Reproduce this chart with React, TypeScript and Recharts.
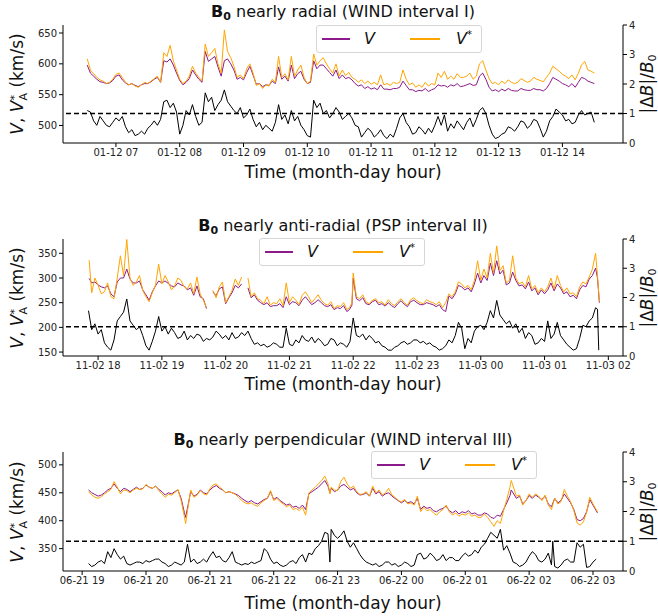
import React from 'react';
import { ComposedChart, Line, XAxis, YAxis, ReferenceLine } from 'recharts';

// ---- panel I: WIND, 01-12 (hours of day)
const t1 = [
  6.55, 6.6, 6.7, 6.8, 6.9, 7.0, 7.1, 7.2, 7.3, 7.4,
  7.5, 7.6, 7.7, 7.75, 7.8, 7.85, 7.9, 8.0, 8.1, 8.2,
  8.3, 8.35, 8.4, 8.5, 8.6, 8.65, 8.7, 8.8, 8.9, 9.0,
  9.1, 9.2, 9.3, 9.4, 9.5, 9.55, 9.6, 9.7, 9.75, 9.8,
  9.9, 10.0, 10.05, 10.1, 10.2, 10.3, 10.4, 10.5, 10.6, 10.7,
  10.8, 10.9, 11.0, 11.1, 11.15, 11.2, 11.3, 11.4, 11.45, 11.5,
  11.6, 11.7, 11.8, 11.9, 12.0, 12.05, 12.1, 12.15, 12.2, 12.3,
  12.4, 12.5, 12.6, 12.7, 12.75, 12.8, 12.9, 13.0, 13.1, 13.2,
  13.3, 13.4, 13.5, 13.6, 13.7, 13.75, 13.8, 13.9, 14.0, 14.1,
  14.2, 14.3, 14.4, 14.5,
];
const vStar1 = [
  608, 590, 578, 572, 570, 583, 578, 566, 564, 566,
  568, 576, 570, 618, 612, 630, 605, 575, 572, 596,
  578, 572, 632, 618, 600, 585, 655, 610, 578, 576,
  600, 565, 560, 564, 570, 612, 578, 574, 612, 580,
  598, 568, 572, 616, 605, 600, 585, 580, 581, 578,
  570, 568, 567, 566, 582, 566, 565, 568, 570, 590,
  566, 562, 562, 564, 566, 585, 578, 588, 575, 575,
  578, 580, 575, 600, 605, 590, 568, 566, 568, 570,
  570, 573, 572, 575, 571, 578, 585, 592, 583, 576,
  574, 598, 590, 585,
];
const v1 = [
  598, 585, 575, 570, 569, 580, 574, 566, 565, 566,
  568, 575, 570, 605, 603, 608, 598, 573, 570, 590,
  575, 570, 620, 608, 595, 580, 605, 600, 575, 574,
  596, 567, 563, 565, 568, 595, 575, 572, 598, 576,
  588, 568, 570, 605, 598, 592, 580, 576, 576, 574,
  564, 560, 559, 558, 566, 559, 558, 560, 562, 572,
  558, 555, 556, 555, 560, 566, 564, 565, 562, 564,
  563, 566, 565, 580, 585, 575, 556, 555, 556, 557,
  556, 558, 557, 558, 556, 560, 568, 575, 568, 563,
  562, 578, 572, 568,
];
// in-between samples (V*, V)
const tMid1 = [
  6.65, 6.75, 6.85, 6.95, 7.05, 7.15, 7.25, 7.35, 7.45, 7.55,
  7.65, 7.95, 8.05, 8.15, 8.25, 8.45, 8.55, 8.75, 8.85, 8.95,
  9.05, 9.15, 9.25, 9.35, 9.45, 9.65, 9.85, 9.95, 10.15, 10.25,
  10.35, 10.45, 10.55, 10.65, 10.75, 10.85, 10.95, 11.05, 11.25, 11.35,
  11.55, 11.65, 11.75, 11.85, 11.95, 12.25, 12.35, 12.45, 12.55, 12.65,
  12.85, 12.95, 13.05, 13.15, 13.25, 13.35, 13.45, 13.55, 13.65, 13.85,
  13.95, 14.05, 14.15, 14.25, 14.35, 14.45,
];
const vStarMid1 = [
  584, 574, 568, 575, 585, 570, 568, 562, 570, 572,
  580, 590, 568, 580, 585, 612, 625, 620, 596, 582,
  592, 585, 568, 566, 575, 584, 590, 578, 598, 610,
  592, 600, 590, 586, 575, 574, 572, 570, 568, 570,
  575, 569, 566, 570, 568, 580, 584, 578, 585, 580,
  576, 570, 572, 574, 568, 576, 570, 578, 573, 596,
  588, 580, 582, 585, 604, 588,
];
const vMid1 = [
  580, 571, 568, 573, 582, 569, 568, 563, 568, 571,
  578, 585, 566, 576, 582, 604, 612, 608, 590, 578,
  586, 582, 568, 566, 572, 580, 584, 575, 592, 598,
  586, 590, 582, 578, 568, 566, 563, 561, 559, 560,
  565, 558, 557, 560, 558, 566, 568, 564, 568, 566,
  562, 558, 559, 560, 556, 560, 557, 560, 558, 578,
  572, 566, 568, 570, 576, 570,
];
// |dB|/B0, [hour, value]
const dB1: [number, number][] = [
  [6.55, 1.1], [6.6, 1.05], [6.65, 0.75], [6.7, 0.6], [6.75, 0.9], [6.8, 0.75], [6.85, 0.6], [6.9, 0.55],
  [6.95, 0.7], [7.0, 0.85], [7.05, 0.75], [7.1, 0.9], [7.15, 0.55], [7.2, 0.35], [7.25, 0.45], [7.3, 0.25],
  [7.35, 0.3], [7.4, 0.4], [7.45, 0.3], [7.5, 0.5], [7.55, 0.6], [7.6, 0.75], [7.65, 0.6], [7.7, 0.8],
  [7.75, 1.4], [7.8, 1.45], [7.85, 1.2], [7.9, 1.35], [7.95, 1.05], [8.0, 0.3], [8.05, 0.6], [8.1, 1.1],
  [8.15, 0.95], [8.2, 1.3], [8.25, 0.9], [8.3, 0.6], [8.35, 0.7], [8.4, 1.7], [8.45, 1.4], [8.5, 1.55],
  [8.55, 1.1], [8.6, 1.3], [8.65, 1.45], [8.7, 1.8], [8.75, 1.4], [8.8, 1.25], [8.85, 1.1], [8.9, 1.0],
  [8.95, 1.2], [9.0, 0.85], [9.05, 0.95], [9.1, 1.15], [9.15, 0.8], [9.2, 0.55], [9.25, 0.7], [9.3, 0.45],
  [9.35, 0.6], [9.4, 0.5], [9.45, 0.4], [9.5, 0.7], [9.55, 1.3], [9.6, 0.8], [9.65, 0.95], [9.7, 0.65],
  [9.75, 1.1], [9.8, 0.75], [9.85, 0.9], [9.9, 0.6], [9.95, 0.45], [10.0, 0.25], [10.05, 0.2], [10.1, 1.45],
  [10.15, 1.2], [10.2, 1.35], [10.25, 1.0], [10.3, 1.1], [10.35, 0.85], [10.4, 1.0], [10.45, 1.2], [10.5, 1.05],
  [10.55, 0.8], [10.6, 0.9], [10.65, 1.0], [10.7, 0.85], [10.75, 0.6], [10.8, 0.55], [10.85, 0.2], [10.9, 0.35],
  [10.95, 0.5], [11.0, 0.4], [11.05, 0.2], [11.1, 0.3], [11.15, 0.45], [11.2, 0.25], [11.25, 0.15], [11.3, 0.3],
  [11.35, 0.2], [11.4, 0.5], [11.45, 0.85], [11.5, 1.0], [11.55, 0.7], [11.6, 0.55], [11.65, 0.3], [11.7, 0.35],
  [11.75, 0.55], [11.8, 0.45], [11.85, 0.3], [11.9, 0.5], [11.95, 0.35], [12.0, 0.6], [12.05, 0.9], [12.1, 0.6],
  [12.15, 0.95], [12.2, 0.4], [12.25, 0.65], [12.3, 0.5], [12.35, 0.75], [12.4, 0.6], [12.45, 0.45], [12.5, 0.7],
  [12.55, 0.85], [12.6, 0.55], [12.65, 0.8], [12.7, 1.1], [12.75, 1.2], [12.8, 1.0], [12.85, 0.6], [12.9, 0.3],
  [12.95, 0.15], [13.0, 0.2], [13.05, 0.3], [13.1, 0.35], [13.15, 0.55], [13.2, 0.5], [13.25, 0.4], [13.3, 0.55],
  [13.35, 0.75], [13.4, 0.7], [13.45, 0.5], [13.5, 0.6], [13.55, 0.8], [13.6, 0.75], [13.65, 0.5], [13.7, 0.2],
  [13.75, 0.4], [13.8, 0.75], [13.85, 0.9], [13.9, 1.15], [13.95, 1.05], [14.0, 0.95], [14.05, 0.75], [14.1, 0.8],
  [14.15, 0.65], [14.2, 0.7], [14.25, 0.95], [14.3, 1.1], [14.35, 0.95], [14.4, 1.0], [14.45, 1.05], [14.5, 0.7],
];

// ---- panel II: PSP, 11-02 18h .. 11-03 02h (hours past 11-02 00)
const t2 = [
  17.86, 17.9, 18.0, 18.1, 18.2, 18.3, 18.35, 18.4, 18.45, 18.5,
  18.6, 18.7, 18.8, 18.9, 18.95, 19.0, 19.1, 19.2, 19.3, 19.4,
  19.5, 19.55, 19.6, 19.7, 19.75, 19.8, 19.9, 20.0, 20.1, 20.2,
  20.25, 20.3, 20.35, 20.4, 20.5, 20.6, 20.7, 20.8, 20.9, 20.95,
  21.0, 21.1, 21.2, 21.3, 21.4, 21.5, 21.6, 21.7, 21.8, 21.9,
  21.98, 22.0, 22.05, 22.1, 22.2, 22.3, 22.4, 22.5, 22.6, 22.7,
  22.8, 22.9, 23.0, 23.1, 23.2, 23.3, 23.4, 23.5, 23.6, 23.65,
  23.7, 23.75, 23.8, 23.9, 23.95, 24.0, 24.1, 24.15, 24.2, 24.25,
  24.3, 24.4, 24.45, 24.5, 24.6, 24.7, 24.8, 24.9, 25.0, 25.05,
  25.1, 25.2, 25.3, 25.4, 25.5, 25.6, 25.7, 25.8, 25.83, 25.86,
];
const vStar2 = [
  336, 270, 285, 272, 262, 300, 345, 305, 378, 300,
  292, 275, 252, 285, 328, 288, 292, 284, 295, 278,
  268, 302, 268, 240, null, 275, 282, 250, 275, 285,
  302, null, 300, 262, 258, 248, 245, 248, 244, 290,
  250, 255, 265, 262, 258, 255, 245, 238, 242, 236,
  250, 310, 262, 258, 252, 255, 250, 245, 248, 252,
  250, 256, 254, 248, 252, 246, 240, 268, 272, 292,
  288, 280, 285, 295, 335, 296, 300, 350, 310, 365,
  315, 290, 295, 345, 288, 282, 278, 270, 272, 282,
  300, 305, 272, 268, 262, 292, 302, 350, 305, 252,
];
const v2 = [
  299, 290, 286, 280, 268, 292, 300, 300, 318, 298,
  290, 276, 255, 284, 294, 290, 289, 282, 286, 276,
  265, 284, 262, 238, null, 272, 278, 248, 270, 280,
  288, null, 280, 260, 255, 246, 242, 244, 240, 262,
  246, 250, 255, 254, 250, 250, 242, 236, 238, 232,
  245, 300, 258, 254, 248, 252, 246, 243, 244, 248,
  247, 252, 250, 246, 248, 242, 236, 264, 268, 285,
  282, 276, 280, 288, 310, 290, 295, 330, 305, 335,
  308, 286, 290, 312, 284, 278, 274, 266, 268, 276,
  290, 288, 268, 262, 258, 285, 298, 320, 300, 250,
];
const tMid2 = [
  17.95, 18.05, 18.15, 18.25, 18.55, 18.65, 18.75, 18.85, 19.05, 19.15,
  19.25, 19.35, 19.45, 19.65, 19.85, 19.95, 20.05, 20.15, 20.45, 20.55,
  20.65, 20.75, 20.85, 21.05, 21.15, 21.25, 21.35, 21.45, 21.55, 21.65,
  21.75, 21.85, 21.94, 22.15, 22.25, 22.35, 22.45, 22.55, 22.65, 22.75,
  22.85, 22.95, 23.05, 23.15, 23.25, 23.35, 23.45, 23.55, 23.85, 24.05,
  24.35, 24.55, 24.65, 24.75, 24.85, 24.95, 25.15, 25.25, 25.35, 25.45,
  25.55, 25.65, 25.75,
];
const vStarMid2 = [
  300, 268, 290, 258, 285, 305, 262, 270, 305, 276,
  300, 282, 290, 255, 260, 292, 262, 298, 270, 255,
  262, 250, 258, 262, 246, 272, 250, 266, 248, 252,
  244, 250, 240, 266, 248, 258, 252, 256, 244, 258,
  245, 260, 250, 256, 250, 252, 250, 262, 276, 318,
  325, 300, 292, 305, 285, 280, 278, 285, 280, 270,
  282, 288, 318,
];
const vMid2 = [
  292, 282, 284, 262, 290, 294, 266, 272, 294, 284,
  290, 284, 280, 258, 264, 282, 260, 285, 266, 250,
  250, 244, 248, 252, 244, 262, 246, 256, 244, 246,
  240, 244, 236, 260, 246, 255, 248, 250, 240, 254,
  242, 255, 246, 250, 246, 246, 232, 258, 272, 305,
  316, 295, 286, 292, 280, 276, 274, 280, 272, 265,
  276, 282, 305,
];
const dB2: [number, number][] = [
  [17.85, 1.55], [17.9, 0.9], [17.95, 1.1], [18.0, 0.75], [18.05, 0.9], [18.1, 0.45], [18.15, 0.3], [18.2, 0.2],
  [18.25, 0.55], [18.3, 1.2], [18.35, 1.35], [18.4, 1.5], [18.45, 1.95], [18.5, 1.2], [18.55, 1.05], [18.6, 0.9],
  [18.65, 1.0], [18.7, 0.7], [18.75, 0.35], [18.8, 0.2], [18.85, 0.5], [18.9, 0.85], [18.95, 1.35], [19.0, 0.85],
  [19.05, 1.0], [19.1, 0.75], [19.15, 0.95], [19.2, 0.8], [19.25, 0.6], [19.3, 0.65], [19.35, 0.85], [19.4, 0.55],
  [19.45, 0.7], [19.5, 0.6], [19.55, 0.75], [19.6, 0.7], [19.65, 0.5], [19.7, 0.6], [19.75, 0.55], [19.8, 0.65],
  [19.85, 0.85], [19.9, 0.75], [19.95, 0.6], [20.0, 0.7], [20.05, 0.55], [20.1, 0.8], [20.15, 0.6], [20.2, 0.65],
  [20.25, 0.8], [20.3, 0.7], [20.35, 0.85], [20.4, 0.6], [20.45, 0.4], [20.5, 0.45], [20.55, 0.35], [20.6, 0.4],
  [20.65, 0.3], [20.7, 0.35], [20.75, 0.45], [20.8, 0.4], [20.85, 0.3], [20.9, 0.3], [20.95, 0.95], [21.0, 0.4],
  [21.05, 0.35], [21.1, 0.55], [21.15, 0.45], [21.2, 0.7], [21.25, 0.55], [21.3, 0.5], [21.35, 0.65], [21.4, 0.45],
  [21.45, 0.6], [21.5, 0.5], [21.55, 0.35], [21.6, 0.4], [21.65, 0.6], [21.7, 0.55], [21.75, 0.35], [21.8, 0.45],
  [21.85, 0.4], [21.9, 0.3], [21.95, 0.5], [22.0, 1.3], [22.05, 0.7], [22.1, 0.65], [22.15, 0.75], [22.2, 0.55],
  [22.25, 0.7], [22.3, 0.6], [22.35, 0.45], [22.4, 0.5], [22.45, 0.35], [22.5, 0.3], [22.55, 0.2], [22.6, 0.2],
  [22.65, 0.3], [22.7, 0.35], [22.75, 0.45], [22.8, 0.5], [22.85, 0.4], [22.9, 0.45], [22.95, 0.55], [23.0, 0.55],
  [23.05, 0.45], [23.1, 0.5], [23.15, 0.4], [23.2, 0.45], [23.25, 0.35], [23.3, 0.3], [23.35, 0.2], [23.4, 0.25],
  [23.45, 0.35], [23.5, 0.55], [23.55, 0.45], [23.6, 0.7], [23.65, 1.15], [23.7, 0.95], [23.75, 0.25], [23.8, 0.6],
  [23.85, 0.45], [23.9, 0.85], [23.95, 1.0], [24.0, 1.05], [24.05, 0.9], [24.1, 1.15], [24.15, 1.55], [24.2, 1.3],
  [24.25, 1.9], [24.3, 1.4], [24.35, 1.25], [24.4, 1.1], [24.45, 1.2], [24.5, 0.95], [24.55, 1.1], [24.6, 0.8],
  [24.65, 0.95], [24.7, 0.6], [24.75, 0.8], [24.8, 0.7], [24.85, 0.4], [24.9, 0.45], [24.95, 0.6], [25.0, 0.5],
  [25.05, 1.2], [25.1, 0.6], [25.15, 0.75], [25.2, 1.15], [25.25, 0.7], [25.3, 0.55], [25.35, 0.4], [25.4, 0.3],
  [25.45, 0.2], [25.5, 0.25], [25.55, 0.6], [25.6, 1.05], [25.65, 1.0], [25.7, 1.2], [25.75, 1.3], [25.8, 1.65],
  [25.83, 1.6], [25.85, 0.2],
];

// ---- panel III: WIND, 06-21 19h .. 06-22 03h (hours past 06-21 00)
const t3 = [
  19.1, 19.2, 19.3, 19.4, 19.5, 19.6, 19.7, 19.8, 19.9, 20.0,
  20.1, 20.2, 20.3, 20.4, 20.5, 20.55, 20.6, 20.62, 20.7, 20.8,
  20.9, 21.0, 21.05, 21.1, 21.2, 21.3, 21.35, 21.4, 21.5, 21.6,
  21.7, 21.8, 21.85, 21.9, 21.95, 22.0, 22.1, 22.2, 22.3, 22.4,
  22.5, 22.55, 22.6, 22.7, 22.8, 22.85, 22.88, 22.9, 23.0, 23.05,
  23.1, 23.2, 23.3, 23.4, 23.5, 23.55, 23.6, 23.7, 23.8, 23.9,
  24.0, 24.1, 24.2, 24.25, 24.3, 24.4, 24.5, 24.6, 24.7, 24.8,
  24.9, 25.0, 25.1, 25.2, 25.3, 25.4, 25.45, 25.5, 25.55, 25.6,
  25.7, 25.72, 25.8, 25.9, 26.0, 26.1, 26.2, 26.3, 26.35, 26.4,
  26.5, 26.55, 26.6, 26.7, 26.75, 26.8, 26.85, 26.9, 26.95, 27.0, 27.07,
];
const v3 = [
  455, 447, 446, 455, 466, 452, 456, 456, 456, 464,
  458, 456, 446, 448, 455, 440, 415, 406, 452, 447,
  450, 455, 460, 463, 455, 452, 450, 448, 440, 433,
  432, 434, 438, 440, 452, 438, 436, 428, 424, 422,
  420, 448, 452, 460, 472, 462, 450, 458, 455, 462,
  465, 455, 450, 447, 444, 458, 448, 444, 450, 440,
  432, 432, 430, 440, 420, 422, 418, 420, 426, 414,
  412, 414, 412, 410, 414, 406, 404, 410, 408, 420,
  445, 455, 440, 430, 445, 446, 438, 430, 425, 440,
  436, 448, 440, 420, 402, 400, 404, 416, 438, 428, 414,
];
const vStar3 = [
  452, 442, 443, 452, 470, 448, 454, 455, 456, 465,
  458, 454, 442, 446, 456, 436, 408, 395, 455, 446,
  448, 457, 464, 466, 456, 452, 450, 447, 436, 430,
  428, 432, 436, 440, 454, 436, 434, 425, 420, 418,
  410, 450, 455, 466, 480, 466, 448, 460, 454, 470,
  478, 458, 452, 448, 444, 462, 450, 446, 458, 442,
  434, 430, 428, 444, 416, 418, 414, 416, 428, 410,
  408, 410, 408, 406, 412, 398, 390, 400, 395, 418,
  460, 472, 444, 428, 448, 448, 436, 428, 420, 440,
  434, 456, 444, 418, 396, 392, 398, 415, 442, 430, 416,
];
const tMid3 = [
  19.15, 19.25, 19.35, 19.45, 19.55, 19.65, 19.75, 19.85, 19.95, 20.05,
  20.15, 20.25, 20.35, 20.45, 20.75, 20.85, 20.95, 21.15, 21.25, 21.45,
  21.55, 21.65, 21.75, 22.05, 22.15, 22.25, 22.35, 22.45, 22.65, 22.75,
  22.95, 23.15, 23.25, 23.35, 23.45, 23.65, 23.75, 23.85, 23.95, 24.05,
  24.15, 24.35, 24.45, 24.55, 24.65, 24.75, 24.85, 24.95, 25.05, 25.15,
  25.25, 25.35, 25.65, 25.85, 25.95, 26.05, 26.15, 26.25, 26.45, 26.65,
];
const vMid3 = [
  450, 444, 450, 458, 458, 458, 452, 460, 458, 460,
  462, 452, 450, 452, 444, 455, 448, 458, 450, 445,
  436, 436, 430, 442, 432, 430, 426, 428, 456, 466,
  452, 460, 458, 446, 450, 452, 448, 444, 436, 436,
  434, 426, 424, 416, 422, 418, 418, 416, 418, 414,
  410, 412, 432, 444, 436, 440, 442, 444, 432, 432,
];
const vStarMid3 = [
  446, 440, 448, 456, 460, 455, 450, 458, 457, 460,
  462, 448, 447, 450, 442, 454, 446, 460, 450, 442,
  432, 432, 426, 440, 430, 428, 422, 424, 460, 472,
  455, 466, 462, 447, 452, 455, 450, 446, 436, 438,
  432, 424, 420, 410, 420, 416, 414, 412, 414, 410,
  406, 406, 438, 446, 436, 442, 444, 446, 430, 434,
];
const dB3: [number, number][] = [
  [19.1, 0.25], [19.15, 0.15], [19.2, 0.2], [19.25, 0.3], [19.3, 0.35], [19.35, 0.25], [19.4, 0.65], [19.45, 0.45],
  [19.5, 0.75], [19.55, 0.55], [19.6, 0.4], [19.65, 0.5], [19.7, 0.25], [19.75, 0.2], [19.8, 0.25], [19.85, 0.3],
  [19.9, 0.3], [19.95, 0.25], [20.0, 0.35], [20.05, 0.3], [20.1, 0.35], [20.15, 0.4], [20.2, 0.4], [20.25, 0.3],
  [20.3, 0.25], [20.35, 0.15], [20.4, 0.2], [20.45, 0.3], [20.5, 0.25], [20.55, 0.2], [20.6, 0.3], [20.65, 0.9],
  [20.7, 0.3], [20.75, 0.4], [20.8, 0.25], [20.85, 0.3], [20.9, 0.4], [20.95, 0.3], [21.0, 0.5], [21.05, 0.65],
  [21.1, 0.45], [21.15, 0.5], [21.2, 0.35], [21.25, 0.3], [21.3, 0.45], [21.35, 0.65], [21.4, 0.3], [21.45, 0.25],
  [21.5, 0.2], [21.55, 0.25], [21.6, 0.22], [21.65, 0.3], [21.7, 0.25], [21.75, 0.3], [21.8, 0.35], [21.85, 0.75],
  [21.9, 0.65], [21.95, 0.4], [22.0, 0.25], [22.05, 0.3], [22.1, 0.2], [22.15, 0.15], [22.2, 0.2], [22.25, 0.3],
  [22.3, 0.35], [22.35, 0.25], [22.4, 0.45], [22.45, 0.55], [22.5, 0.3], [22.55, 0.6], [22.6, 0.55], [22.65, 0.75],
  [22.7, 0.85], [22.75, 1.0], [22.8, 1.3], [22.85, 1.25], [22.88, 0.3], [22.9, 1.4], [22.95, 1.2], [23.0, 1.1],
  [23.05, 1.2], [23.1, 1.35], [23.15, 1.0], [23.2, 0.8], [23.25, 0.95], [23.3, 0.75], [23.35, 0.55], [23.4, 0.4],
  [23.45, 0.3], [23.5, 0.25], [23.55, 0.2], [23.6, 0.25], [23.65, 0.15], [23.7, 0.2], [23.75, 0.3], [23.8, 0.3],
  [23.85, 0.2], [23.9, 0.25], [23.95, 0.15], [24.0, 0.2], [24.05, 0.3], [24.1, 0.25], [24.15, 0.15], [24.2, 0.2],
  [24.25, 0.55], [24.3, 0.6], [24.35, 0.4], [24.4, 0.45], [24.45, 0.6], [24.5, 0.5], [24.55, 0.35], [24.6, 0.4],
  [24.65, 0.55], [24.7, 0.35], [24.75, 0.45], [24.8, 0.45], [24.85, 0.35], [24.9, 0.35], [24.95, 0.5], [25.0, 0.6],
  [25.05, 0.5], [25.1, 0.55], [25.15, 0.7], [25.2, 0.6], [25.25, 0.8], [25.3, 0.9], [25.35, 1.1], [25.4, 1.3],
  [25.45, 1.2], [25.5, 1.1], [25.55, 1.4], [25.6, 0.7], [25.65, 0.85], [25.7, 0.6], [25.75, 0.3], [25.8, 0.25],
  [25.85, 0.15], [25.9, 0.2], [25.95, 0.3], [26.0, 0.5], [26.05, 0.65], [26.1, 0.55], [26.15, 0.35], [26.2, 0.3],
  [26.25, 0.4], [26.3, 0.6], [26.35, 0.2], [26.37, 1.0], [26.4, 0.15], [26.45, 0.1], [26.5, 0.2], [26.55, 0.35],
  [26.6, 0.4], [26.65, 0.3], [26.7, 0.3], [26.75, 0.95], [26.8, 0.8], [26.85, 0.9], [26.9, 0.12], [26.95, 0.15],
  [27.0, 0.3], [27.05, 0.4],
];

const hourTicks1 = [7, 8, 9, 10, 11, 12, 13, 14];
const hourTicks2 = [18, 19, 20, 21, 22, 23, 24, 25, 26];
const hourTicks3 = [19, 20, 21, 22, 23, 24, 25, 26, 27];
const rightTicks = [0, 1, 2, 3, 4];

const FONT = '"DejaVu Sans", sans-serif';
const PURPLE = '#8b1a8b';
const ORANGE = '#ffa500';

type Row = { t: number; v: number | null; vs: number | null };

function rows(
  t: number[], v: (number | null)[], vs: (number | null)[],
  tm: number[], vm: number[], vsm: number[],
): Row[] {
  const out: Row[] = t.map((x, i) => ({ t: x, v: v[i], vs: vs[i] }));
  tm.forEach((x, i) => out.push({ t: x, v: vm[i], vs: vsm[i] }));
  return out.sort((a, b) => a.t - b.t);
}

function dayHour(first: string, second: string) {
  return (h: number) => {
    const hh = h >= 24 ? h - 24 : h;
    return `${h >= 24 ? second : first} ${String(hh).padStart(2, '0')}`;
  };
}

interface PanelProps {
  data: Row[];
  dB: [number, number][];
  plotTop: number;
  plotH: number;
  xDomain: [number, number];
  xTicks: number[];
  fmt: (h: number) => string;
  yDomain: [number, number];
  yTicks: number[];
  title: string;
  titleY: number;
  timeY: number;
  legend: { left: number; top: number };
}

function LegendBox({ left, top }: { left: number; top: number }) {
  return (
    <div
      style={{
        position: 'absolute', left, top, width: 166, height: 28,
        border: '1px solid #d6d6d6', borderRadius: 3, background: 'rgba(255,255,255,0.82)',
        fontFamily: FONT, fontSize: 16, boxSizing: 'border-box', color: '#111',
      }}
    >
      <div style={{ position: 'absolute', left: 5, top: 12, width: 28, height: 2, background: PURPLE }} />
      <div style={{ position: 'absolute', left: 47, top: 3, fontStyle: 'italic' }}>V</div>
      <div style={{ position: 'absolute', left: 93, top: 12, width: 30, height: 2, background: ORANGE }} />
      <div style={{ position: 'absolute', left: 139, top: 3, fontStyle: 'italic' }}>
        V<span style={{ fontSize: 10, verticalAlign: 6, fontStyle: 'normal' }}>*</span>
      </div>
    </div>
  );
}

function Panel(p: PanelProps) {
  const chartTop = p.plotTop - 8;
  const midY = p.plotTop + p.plotH / 2;
  const dBRows = p.dB.map(([t, db]) => ({ t, db }));
  return (
    <>
      <div
        style={{
          position: 'absolute', left: 63, width: 560, top: p.titleY - 10, textAlign: 'center',
          fontFamily: FONT, fontSize: 16, whiteSpace: 'nowrap', color: '#111',
        }}
      >
        <b>B</b>
        <b style={{ fontSize: 11, verticalAlign: -3 }}>0</b> {p.title}
      </div>
      <div style={{ position: 'absolute', left: 0, top: chartTop }}>
        <ComposedChart
          width={658}
          height={8 + p.plotH + 22}
          data={p.data}
          margin={{ top: 8, right: 0, left: 0, bottom: 0 }}
        >
          <XAxis
            dataKey="t"
            type="number"
            domain={p.xDomain}
            ticks={p.xTicks}
            interval={0}
            allowDataOverflow
            tickFormatter={p.fmt}
            height={22}
            tickSize={4}
            tick={{ fontSize: 10, fill: '#222', fontFamily: FONT }}
            axisLine={{ stroke: '#000' }}
            tickLine={{ stroke: '#000' }}
          />
          <XAxis
            xAxisId="top"
            orientation="top"
            dataKey="t"
            type="number"
            domain={p.xDomain}
            allowDataOverflow
            height={0}
            tick={false}
            tickLine={false}
            axisLine={{ stroke: '#000' }}
          />
          <YAxis
            yAxisId="l"
            domain={p.yDomain}
            ticks={p.yTicks}
            interval={0}
            allowDataOverflow
            width={63}
            tickSize={4}
            tick={{ fontSize: 10, fill: '#222', fontFamily: FONT }}
            axisLine={{ stroke: '#000' }}
            tickLine={{ stroke: '#000' }}
          />
          <YAxis
            yAxisId="r"
            orientation="right"
            domain={[0, 4]}
            ticks={rightTicks}
            interval={0}
            width={35}
            tickSize={4}
            tick={{ fontSize: 10, fill: '#222', fontFamily: FONT }}
            axisLine={{ stroke: '#000' }}
            tickLine={{ stroke: '#000' }}
          />
          <Line data={dBRows} yAxisId="r" type="linear" dataKey="db" stroke="#000" strokeWidth={1} dot={false} isAnimationActive={false} />
          <Line yAxisId="l" type="linear" dataKey="v" stroke={PURPLE} strokeWidth={1} dot={false} isAnimationActive={false} />
          <Line yAxisId="l" type="linear" dataKey="vs" stroke={ORANGE} strokeWidth={1} dot={false} isAnimationActive={false} />
          <ReferenceLine yAxisId="r" y={1} stroke="#000" strokeWidth={1.5} strokeDasharray="5 3" />
        </ComposedChart>
      </div>
      <LegendBox left={p.legend.left} top={p.legend.top} />
      <div
        style={{
          position: 'absolute', left: 17, top: midY, transform: 'translate(-50%,-50%) rotate(-90deg)',
          fontFamily: FONT, fontSize: 17, whiteSpace: 'nowrap', color: '#111',
        }}
      >
        <i>V</i>, <i>V</i>
        <span style={{ display: 'inline-block', verticalAlign: -4, lineHeight: '9px', fontSize: 11 }}>
          <span style={{ display: 'block' }}>*</span>
          <span style={{ display: 'block' }}>A</span>
        </span>{' '}
        (km/s)
      </div>
      <div
        style={{
          position: 'absolute', left: 648, top: midY, transform: 'translate(-50%,-50%) rotate(-90deg)',
          fontFamily: FONT, fontSize: 17, whiteSpace: 'nowrap', color: '#111',
        }}
      >
        |Δ<i>B</i>|/<i>B</i>
        <span style={{ fontSize: 11, verticalAlign: -3 }}>0</span>
      </div>
      <div
        style={{
          position: 'absolute', left: 63, width: 560, top: p.timeY - 10, textAlign: 'center',
          fontFamily: FONT, fontSize: 17, whiteSpace: 'nowrap', color: '#111',
        }}
      >
        Time (month-day hour)
      </div>
    </>
  );
}

export default function App() {
  return (
    <div style={{ position: 'absolute', left: 0, top: 0, width: 658, height: 616, background: '#fff', overflow: 'hidden' }}>
      <Panel
        data={rows(t1, v1, vStar1, tMid1, vMid1, vStarMid1)}
        dB={dB1}
        plotTop={25}
        plotH={118}
        xDomain={[6.17, 14.95]}
        xTicks={hourTicks1}
        fmt={dayHour('01-12', '01-13')}
        yDomain={[471.6, 663]}
        yTicks={[500, 550, 600, 650]}
        title="nearly radial (WIND interval I)"
        titleY={12}
        timeY={172}
        legend={{ left: 316, top: 25 }}
      />
      <Panel
        data={rows(t2, v2, vStar2, tMid2, vMid2, vStarMid2)}
        dB={dB2}
        plotTop={239}
        plotH={117}
        xDomain={[17.45, 26.23]}
        xTicks={hourTicks2}
        fmt={dayHour('11-02', '11-03')}
        yDomain={[142, 379]}
        yTicks={[150, 200, 250, 300, 350]}
        title="nearly anti-radial (PSP interval II)"
        titleY={226}
        timeY={384}
        legend={{ left: 259, top: 238 }}
      />
      <Panel
        data={rows(t3, v3, vStar3, tMid3, vMid3, vStarMid3)}
        dB={dB3}
        plotTop={452}
        plotH={119}
        xDomain={[18.7, 27.47]}
        xTicks={hourTicks3}
        fmt={dayHour('06-21', '06-22')}
        yDomain={[310, 523]}
        yTicks={[350, 400, 450, 500]}
        title="nearly perpendicular (WIND interval III)"
        titleY={440}
        timeY={603}
        legend={{ left: 371, top: 451 }}
      />
    </div>
  );
}
